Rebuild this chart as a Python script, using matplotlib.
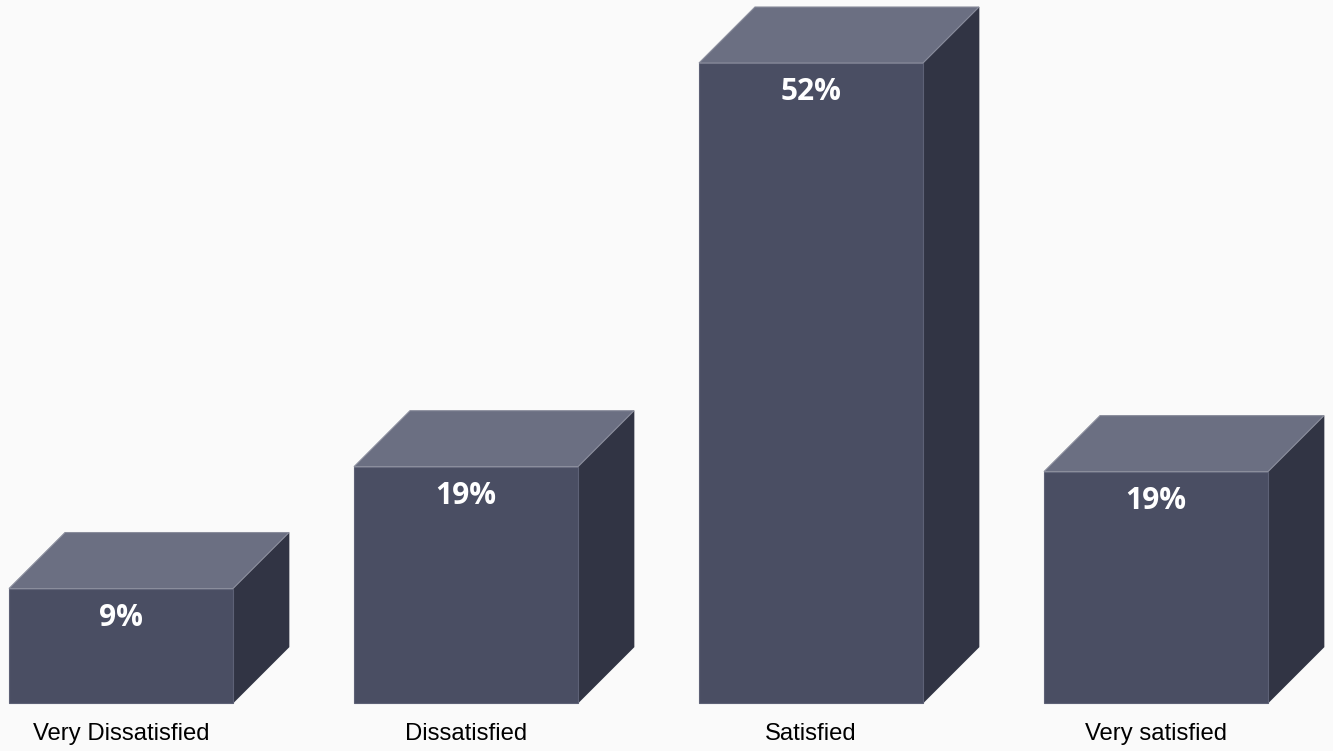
import matplotlib.pyplot as plt
from matplotlib.patches import Polygon

categories = ["Very Dissatisfied", "Dissatisfied", "Satisfied", "Very satisfied"]
values = [9.3, 19.2, 52.0, 18.8]
labels = ["9%", "19%", "52%", "19%"]

front_color = "#4a4e63"
top_color = "#6b6f82"
side_color = "#313444"
bg = "#fafafa"

W, H = 1333, 751
fig = plt.figure(figsize=(W / 100, H / 100), dpi=100, facecolor=bg)
ax = fig.add_axes([0, 0, 1, 1])
ax.set_facecolor(bg)

# pixel scale of the data units
px_x = 345.0          # pixels per category step
px_y = 640.0 / 52.0   # pixels per percent
x0_px, base_px = 121, 703
ax.set_xlim(-x0_px / px_x, (W - x0_px) / px_x)
ax.set_ylim(-(H - base_px) / px_y, base_px / px_y)
ax.axis("off")

bw = 224 / px_x
dx = 56 / px_x
dy = 56 / px_y

for i, (v, lab) in enumerate(zip(values, labels)):
    l, r = i - bw / 2, i + bw / 2
    front = Polygon([(l, 0), (r, 0), (r, v), (l, v)], closed=True,
                    facecolor=front_color, edgecolor="#5d6176", lw=0.8)
    top = Polygon([(l, v), (r, v), (r + dx, v + dy), (l + dx, v + dy)], closed=True,
                  facecolor=top_color, edgecolor="#8a8d9c", lw=0.8)
    side = Polygon([(r, 0), (r + dx, dy), (r + dx, v + dy), (r, v)], closed=True,
                   facecolor=side_color, edgecolor=side_color, lw=0.5)
    for p in (side, front, top):
        ax.add_patch(p)
    ax.text(i, v - 29 / px_y, lab, ha="center", va="center", color="white",
            fontsize=21.5, fontweight="bold", family=["Open Sans", "DejaVu Sans"])
    ax.text(i, -31 / px_y, categories[i], ha="center", va="center", color="black",
            fontsize=17.2, family=["Liberation Sans", "DejaVu Sans"])

fig.savefig("out.png", dpi=100, facecolor=bg)
